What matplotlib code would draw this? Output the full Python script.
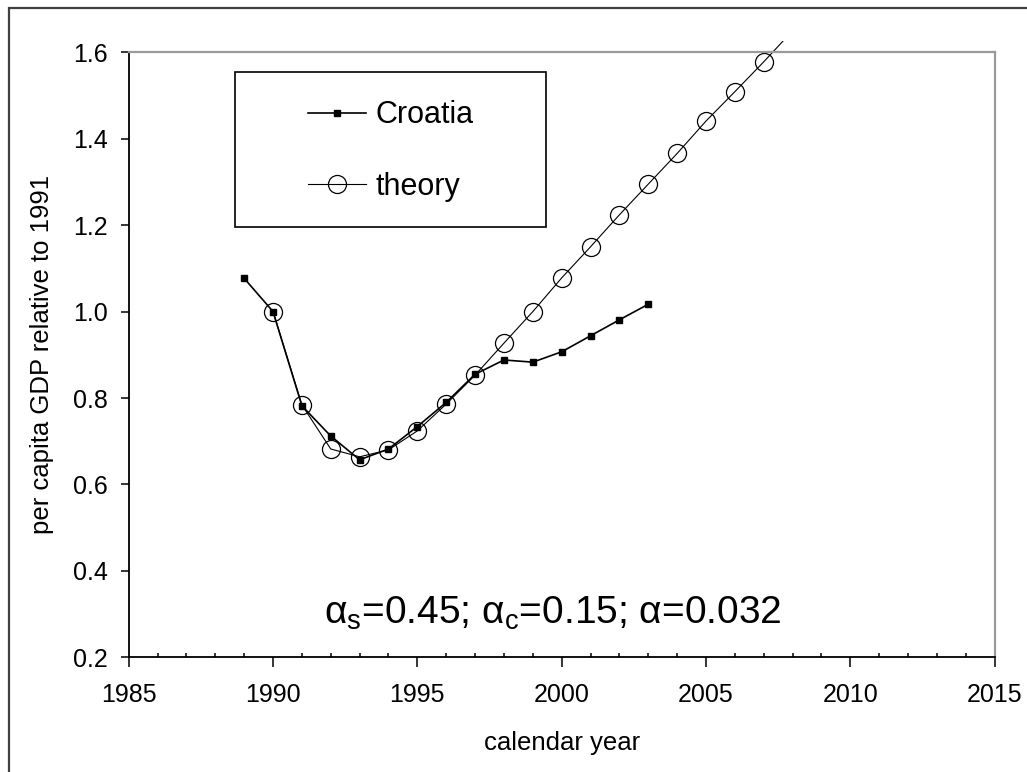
import matplotlib
matplotlib.use("Agg")
import matplotlib.pyplot as plt
from matplotlib.patches import Rectangle
from matplotlib.ticker import MultipleLocator

plt.rcParams['font.family'] = ['Liberation Sans', 'DejaVu Sans']
plt.rcParams['mathtext.fontset'] = 'custom'
plt.rcParams['mathtext.rm'] = 'Liberation Sans'
plt.rcParams['mathtext.it'] = 'Liberation Sans'

# values
croatia_years = list(range(1989, 2004))
croatia = [1.077, 1.000, 0.782, 0.712, 0.657, 0.682, 0.734, 0.790,
           0.855, 0.888, 0.883, 0.907, 0.944, 0.981, 1.017]

theory_years = list(range(1990, 2009))
theory = [1.000, 0.784, 0.682, 0.664, 0.680, 0.724, 0.786, 0.853,
          0.927, 1.000, 1.078, 1.150, 1.224, 1.295, 1.366, 1.441,
          1.509, 1.578, 1.650]

xticks = [1985, 1990, 1995, 2000, 2005, 2010, 2015]
yticks = [0.2, 0.4, 0.6, 0.8, 1.0, 1.2, 1.4, 1.6]

fig = plt.figure(figsize=(10.27, 7.72), dpi=100)
ax = fig.add_axes([128.7 / 1027, 1 - 657.3 / 772,
                   (994.7 - 128.7) / 1027, (657.3 - 52.3) / 772])

# outer chart frame (cut off at right and bottom in the reference)
fig.patches.append(Rectangle((8.5 / 1027, -0.05), 1.1, 1 - 7.5 / 772 + 0.05,
                             transform=fig.transFigure, fill=False,
                             edgecolor='#404040', linewidth=1.6))

th, = ax.plot(theory_years, theory, color='black', lw=0.8, marker='o',
              markersize=13, markerfacecolor='none', markeredgecolor='black',
              markeredgewidth=0.9, markevery=list(range(len(theory) - 1)),
              label='theory')
th.set_clip_path(Rectangle((1985, 0.2), 30, 1.425, transform=ax.transData))

cr, = ax.plot(croatia_years, croatia, color='black', lw=1.2, marker='s',
              markersize=4.5, markerfacecolor='black', markeredgecolor='black',
              label='Croatia')

ax.set_xlim(1985, 2015)
ax.set_ylim(0.2, 1.6)
ax.set_xticks(xticks)
ax.set_yticks(yticks)
ax.set_yticklabels([f'{v:.1f}' for v in yticks])
ax.xaxis.set_minor_locator(MultipleLocator(1))

ax.tick_params(axis='x', which='major', direction='out', length=7.5, width=1.1,
               labelsize=18, pad=11)
ax.tick_params(axis='x', which='minor', direction='in', length=3, width=1.1)
ax.tick_params(axis='y', which='major', direction='out', length=6, width=1.1,
               labelsize=18, pad=9)

for s in ['left', 'bottom']:
    ax.spines[s].set_linewidth(1.3)
    ax.spines[s].set_color('black')
for s in ['top', 'right']:
    ax.spines[s].set_linewidth(1.6)
    ax.spines[s].set_color('#9a9a9a')

ax.set_xlabel('calendar year', fontsize=18.5, labelpad=17)
ax.set_ylabel('per capita GDP relative to 1991', fontsize=18.5, labelpad=14)

ax.text(0.5 - 8.7 / 866, 0.072,
        r'$\mathrm{α}_{\mathrm{s}}$=0.45; $\mathrm{α}_{\mathrm{c}}$=0.15; $\mathrm{α}$=0.032',
        transform=ax.transAxes, ha='center', va='center', fontsize=28)

# legend: frame drawn separately to match the padding of the reference
fig.patches.append(Rectangle((235.3 / 1027, 1 - 227.3 / 772),
                             (545.7 - 235.3) / 1027, (227.3 - 72.3) / 772,
                             transform=fig.transFigure, fill=False,
                             edgecolor='black', linewidth=1.2))
leg = ax.legend(handles=[cr, th], loc='center', frameon=False,
                bbox_to_anchor=(391 / 1027, 1 - 150.9 / 772),
                bbox_transform=fig.transFigure, fontsize=22,
                handlelength=1.9, handletextpad=0.3, labelspacing=1.35,
                borderpad=0, markerscale=1.0)

fig.savefig('out.png', dpi=100)
